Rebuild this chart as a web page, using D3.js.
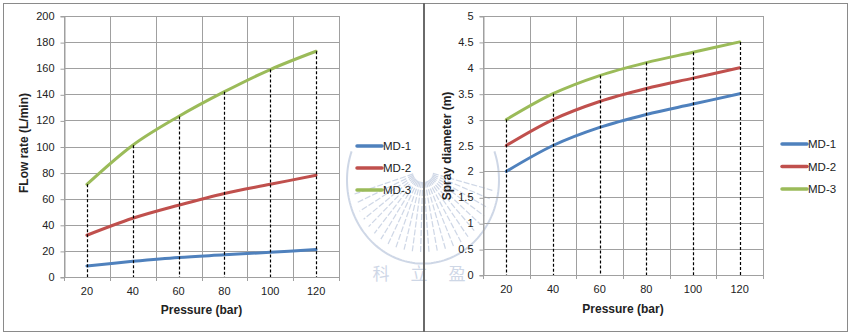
<!DOCTYPE html>
<html>
<head>
<meta charset="utf-8">
<script src="https://cdn.jsdelivr.net/npm/d3@7"></script>
<style>
  html, body { margin: 0; padding: 0; background: #fff; }
  svg { display: block; }
  text { font-family: "Liberation Sans", Arial, sans-serif; }
</style>
</head>
<body>
<svg id="chart" width="850" height="334"></svg>
<script>
// ---------- DATA ----------
const categories = [20, 40, 60, 80, 100, 120];
const seriesNames = ["MD-1", "MD-2", "MD-3"];

const flowMD1 = [8.5, 12, 15, 17, 19, 21];
const flowMD2 = [32, 45, 55, 64, 71, 78];
const flowMD3 = [71, 101, 123, 142, 159, 173];
const flowTicks = [0, 20, 40, 60, 80, 100, 120, 140, 160, 180, 200];

const diamMD1 = [2.0, 2.5, 2.85, 3.1, 3.3, 3.5];
const diamMD2 = [2.5, 3.0, 3.35, 3.6, 3.8, 4.0];
const diamMD3 = [3.0, 3.5, 3.85, 4.1, 4.3, 4.5];
const diamTicks = [0, 0.5, 1, 1.5, 2, 2.5, 3, 3.5, 4, 4.5, 5];

const xTitle = "Pressure (bar)";
const flowTitle = "FLow rate (L/min)";
const diamTitle = "Spray diameter (m)";
const watermarkText = ["科", "立", "盈"];

// ---------- STYLE ----------
const colors = ["#4F81BD", "#C0504D", "#9BBB59"];
const gridColor = "#a0a0a0";

const svg = d3.select("#chart");

// ---------- WATERMARK ----------
(function drawWatermark() {
  const wm = svg.append("g").attr("opacity", 0.5);
  const cx = 423, cy = 172, rx = 76, ry = 88;
  const col = "#9fb0cf";
  const arcPts = d3.range(-20, 201, 2).map(a => {
    const t = a * Math.PI / 180;
    return [cx + rx * Math.cos(t), cy + 8 + ry * Math.sin(t) * 0.95];
  });
  wm.append("path").attr("d", d3.line()(arcPts))
    .attr("fill", "none").attr("stroke", col).attr("stroke-width", 2);
  d3.range(8, 175, 7).forEach(a => {
    const t = a * Math.PI / 180;
    wm.append("line")
      .attr("x1", cx + 10 * Math.cos(t)).attr("y1", cy + 10 * Math.sin(t))
      .attr("x2", cx + (rx - 6) * Math.cos(t)).attr("y2", cy + 8 + (ry - 10) * Math.sin(t) * 0.95)
      .attr("stroke", col).attr("stroke-width", 1.2).attr("stroke-dasharray", "6,2");
  });
  wm.selectAll("text.wm").data(watermarkText).join("text")
    .attr("x", (d, i) => 381 + i * 38).attr("y", 280)
    .attr("text-anchor", "middle")
    .style("font-family", "'Noto Sans CJK SC', sans-serif")
    .style("font-size", "17px").attr("fill", col)
    .text(d => d);
})();

// ---------- CHART FUNCTION ----------
function drawPanel(opt) {
  const g = svg.append("g");
  g.append("rect")
    .attr("x", opt.box[0] + 0.5).attr("y", opt.box[1] + 0.5)
    .attr("width", opt.box[2]).attr("height", opt.box[3])
    .attr("fill", "none").attr("stroke", "#8a8a8a").attr("stroke-width", 1);

  const [L, R, T, B] = opt.plot;
  const x = d3.scaleBand().domain(categories).range([L, R]);
  const y = d3.scaleLinear().domain(opt.domain).range([B, T]);
  const xc = d => x(d) + x.bandwidth() / 2;

  g.append("g").selectAll("line").data(opt.ticks).join("line")
    .attr("x1", L).attr("x2", R)
    .attr("y1", d => Math.round(y(d)) + 0.5).attr("y2", d => Math.round(y(d)) + 0.5)
    .attr("stroke", gridColor).attr("stroke-width", 1);

  const bounds = categories.map(c => x(c)).concat([R]);
  g.append("g").selectAll("line").data(bounds).join("line")
    .attr("x1", d => Math.round(d) + 0.5).attr("x2", d => Math.round(d) + 0.5)
    .attr("y1", T).attr("y2", B + 4)
    .attr("stroke", gridColor).attr("stroke-width", 1);

  const yAxis = d3.axisLeft(y).tickValues(opt.ticks).tickSize(4).tickPadding(6)
    .tickFormat(d => String(d));
  const ya = g.append("g").attr("transform", `translate(${Math.round(L) + 0.5},0)`).call(yAxis);
  ya.select(".domain").attr("stroke", gridColor);
  ya.selectAll(".tick line").attr("stroke", gridColor)
    .attr("transform", "translate(0,0.5)");
  ya.selectAll(".tick text").style("font-size", "11px").attr("fill", "#222")
    .style("font-family", "'Liberation Sans', Arial, sans-serif");

  const xAxis = d3.axisBottom(x).tickSize(0).tickPadding(10).tickFormat(d => String(d));
  const xa = g.append("g").attr("transform", `translate(0,${Math.round(B) + 0.5})`).call(xAxis);
  xa.select(".domain").attr("stroke", gridColor).attr("d", `M${L},0H${R}`);
  xa.selectAll(".tick text").style("font-size", "11px").attr("fill", "#222")
    .style("font-family", "'Liberation Sans', Arial, sans-serif");

  const line = d3.line()
    .x((d, i) => xc(categories[i]))
    .y(d => y(d))
    .curve(d3.curveCardinal.tension(0));
  opt.series.forEach((vals, si) => {
    g.append("path").datum(vals)
      .attr("d", line)
      .attr("fill", "none")
      .attr("stroke", colors[si])
      .attr("stroke-width", 3)
      .attr("stroke-linecap", "round");
  });

  const top = opt.series[opt.series.length - 1];
  g.append("g").selectAll("line").data(categories).join("line")
    .attr("x1", d => Math.round(xc(d)) + 0.5).attr("x2", d => Math.round(xc(d)) + 0.5)
    .attr("y1", (d, i) => y(top[i])).attr("y2", B)
    .attr("stroke", "#000").attr("stroke-width", 1.2)
    .attr("stroke-dasharray", "3,2");

  g.append("text")
    .attr("x", (L + R) / 2).attr("y", opt.xTitleY)
    .attr("text-anchor", "middle")
    .style("font-size", "12px").style("font-weight", "bold").attr("fill", "#222")
    .text(xTitle);
  g.append("text")
    .attr("transform", `translate(${opt.yTitleX},${opt.yTitleY}) rotate(-90)`)
    .attr("text-anchor", "middle")
    .style("font-size", "12px").style("font-weight", "bold").attr("fill", "#222")
    .text(opt.yTitle);

  const lg = g.append("g");
  seriesNames.forEach((name, i) => {
    const ly = opt.legend[1] + i * opt.legend[2];
    lg.append("line")
      .attr("x1", opt.legend[0]).attr("x2", opt.legend[0] + 25)
      .attr("y1", ly).attr("y2", ly)
      .attr("stroke", colors[i]).attr("stroke-width", 3.5).attr("stroke-linecap", "round");
    lg.append("text")
      .attr("x", opt.legend[0] + 26).attr("y", ly + 4)
      .style("font-size", "11.5px").attr("fill", "#222")
      .text(name);
  });
}

drawPanel({
  box: [3, 3, 420, 328],
  plot: [64, 339, 16, 277],
  domain: [0, 200],
  ticks: flowTicks,
  series: [flowMD1, flowMD2, flowMD3],
  xTitleY: 314,
  yTitle: flowTitle,
  yTitleX: 28, yTitleY: 143,
  legend: [357, 146, 22]
});

drawPanel({
  box: [424, 3, 423, 328],
  plot: [483, 763, 16, 275],
  domain: [0, 5],
  ticks: diamTicks,
  series: [diamMD1, diamMD2, diamMD3],
  xTitleY: 313,
  yTitle: diamTitle,
  yTitleX: 451, yTitleY: 146,
  legend: [782, 144, 22.5]
});

svg.append("line").attr("x1", 424).attr("x2", 424).attr("y1", 3).attr("y2", 332)
  .attr("stroke", "#6a6a6a").attr("stroke-width", 2);
</script>
</body>
</html>
